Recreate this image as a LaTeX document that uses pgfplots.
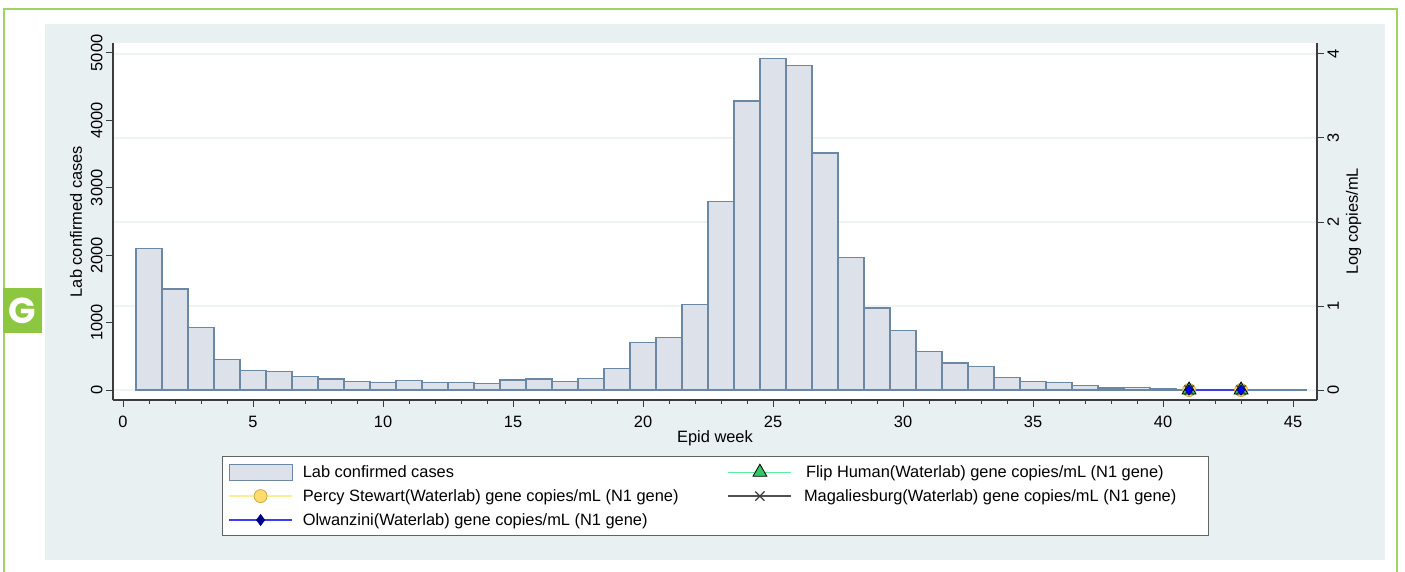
\documentclass[border=0pt]{standalone}
\usepackage{fontspec}
\setmainfont{Liberation Sans}
\newfontfamily\gfont{Poppins}
\usepackage{pgfplots}
\usepackage{pgfplotstable}
\pgfplotsset{compat=1.18}
\definecolor{panelbg}{RGB}{233,240,242}
\definecolor{framegreen}{RGB}{160,210,100}
\definecolor{ggreen}{RGB}{141,198,63}
\definecolor{gridcol}{RGB}{238,243,244}
\definecolor{barfill}{RGB}{221,226,234}
\definecolor{baredge}{RGB}{106,135,163}
\definecolor{axisgray}{RGB}{60,60,60}
\definecolor{legendgray}{RGB}{100,100,100}
\definecolor{percyline}{RGB}{255,236,150}
\definecolor{percyfill}{RGB}{255,220,110}
\definecolor{percyedge}{RGB}{205,170,60}
\definecolor{flipline}{RGB}{90,240,160}
\definecolor{flipfill}{RGB}{50,200,100}
\definecolor{maggray}{RGB}{80,80,80}
\definecolor{olwline}{RGB}{60,60,240}
\definecolor{olwmark}{RGB}{0,0,140}

\pgfplotstableread{
week cases
1 2095
2 1500
3 930
4 450
5 285
6 275
7 198
8 163
9 124
10 114
11 144
12 114
13 114
14 99
15 148
16 163
17 129
18 173
19 321
20 710
21 776
22 1271
23 2794
24 4288
25 4921
26 4812
27 3516
28 1969
29 1217
30 880
31 569
32 400
33 351
34 188
35 129
36 114
37 69
38 30
39 35
40 18
41 12
42 8
43 6
44 4
45 3
}\casestable

\pgfplotstableread{
week logcopies
41 0
43 0
}\wwtable

\begin{document}
\begin{tikzpicture}
\path[use as bounding box] (0pt,0pt) rectangle (1405pt,-571pt);
\fill[panelbg] (45pt,-24pt) rectangle (1385pt,-560pt);
\draw[framegreen, line width=2pt] (4pt,-580pt) -- (4pt,-9pt) -- (1397pt,-9pt) -- (1397pt,-580pt);
\fill[ggreen] (3pt,-288pt) rectangle (42pt,-333pt);
\node[white, inner sep=0pt] at (22.5pt,-310.5pt) {\gfont\bfseries\fontsize{36}{36}\selectfont G};

\begin{axis}[
  at={(113pt,-400pt)}, anchor=south west,
  scale only axis, width=1204pt, height=357pt,
  xmin=-0.385, xmax=45.92, ymin=-148, ymax=5148,
  axis x line*=bottom, axis y line*=left,
  axis line style={draw=axisgray, line width=1.2pt, -},
  axis background/.style={fill=white},
  xtick={0,5,...,45}, minor x tick num=4,
  ytick={0,1000,...,5000},
  scaled y ticks=false,
  tick align=outside, major tick length=7pt, minor tick length=4pt,
  every tick/.style={draw=axisgray, line width=1pt},
  tick label style={font=\fontsize{16.4}{19}\selectfont},
  /pgf/number format/assume math mode=true,
  /pgf/number format/set thousands separator={},
  yticklabel style={rotate=90, anchor=south},
  xticklabel style={yshift=-6pt},
  label style={font=\fontsize{16.4}{19}\selectfont},
  xlabel={Epid week}, ylabel={Lab confirmed cases},
  xlabel style={yshift=4pt},
  ylabel shift=-5pt,
  extra y ticks={0,1246.3,2492.6,3738.9,4985.2},
  extra y tick labels={},
  extra y tick style={grid=major, major tick length=0pt, grid style={draw=gridcol, line width=1.5pt}},
  ybar, bar width=1,
]
\addplot[fill=barfill, draw=baredge, line width=1.2pt] table[x=week,y=cases] {\casestable};
\end{axis}

\begin{axis}[
  at={(113pt,-400pt)}, anchor=south west,
  scale only axis, width=1204pt, height=357pt,
  xmin=-0.385, xmax=45.92, ymin=-0.11875, ymax=4.1306,
  axis x line=none, axis y line*=right,
  axis line style={draw=axisgray, line width=1.2pt, -},
  ytick={0,1,2,3,4},
  tick align=outside, major tick length=7pt,
  every tick/.style={draw=axisgray, line width=1pt},
  tick label style={font=\fontsize{16.4}{19}\selectfont},
  /pgf/number format/assume math mode=true,
  yticklabel style={rotate=90, anchor=north},
  label style={font=\fontsize{16.4}{19}\selectfont},
  ylabel={Log copies/mL},
  clip=false,
  legend columns=2,
  legend cell align=left,
  legend image code/.code={\draw[mark repeat=2,mark phase=2,#1] plot coordinates {(0pt,0pt) (31.5pt,0pt) (63pt,0pt)};},
  legend style={at={(axis description cs:0.0905,-0.1569)}, anchor=north west,
    draw=legendgray, line width=1pt, fill=white,
    font=\fontsize{16.4}{19}\selectfont,
    inner xsep=6pt, inner ysep=7pt, row sep=6.5pt,
    /tikz/every odd column/.append style={column sep=8pt}},
]
% redraw the left axis line over the grid lines (decoration only)
\draw[axisgray, line width=1.2pt] (rel axis cs:0,0) -- (rel axis cs:0,1);
\addlegendimage{legend image code/.code={\draw[fill=barfill,draw=baredge,line width=1pt] (0pt,-8pt) rectangle (63pt,8pt);}}
\addlegendentry{\makebox[423pt][l]{Lab confirmed cases}}
\addlegendimage{color=flipline, line width=1.3pt, mark=triangle*, mark size=8pt, mark options={fill=flipfill, draw=black, line width=0.8pt}}
\addlegendentry{\makebox[398pt][l]{\hspace{4pt}Flip Human(Waterlab) gene copies/mL (N1 gene)}}
\addlegendimage{color=percyline, line width=1.3pt, mark=*, mark size=6.5pt, mark options={fill=percyfill, draw=percyedge, line width=0.8pt}}
\addlegendentry{Percy Stewart(Waterlab) gene copies/mL (N1 gene)}
\addlegendimage{color=maggray, line width=1.3pt, mark=x, mark size=6.5pt, mark options={draw=axisgray, line width=1.3pt}}
\addlegendentry{\hspace{2pt}Magaliesburg(Waterlab) gene copies/mL (N1 gene)}
\addlegendimage{color=olwline, line width=1.3pt, mark=diamond*, mark size=5pt, mark options={fill=olwmark, draw=olwmark}}
\addlegendentry{Olwanzini(Waterlab) gene copies/mL (N1 gene)}

\addplot[forget plot, color=percyline, line width=1.3pt, mark=*, mark size=6.5pt, mark options={fill=percyfill, draw=percyedge, line width=0.8pt}] table[x=week,y=logcopies] {\wwtable};
\addplot[forget plot, color=flipline, line width=1.3pt, mark=triangle*, mark size=8pt, mark options={fill=flipfill, draw=black, line width=0.8pt}] table[x=week,y=logcopies] {\wwtable};
\addplot[forget plot, color=maggray, line width=1.3pt, mark=x, mark size=6.5pt, mark options={draw=axisgray, line width=1.3pt}] table[x=week,y=logcopies] {\wwtable};
\addplot[forget plot, color=olwline, line width=2pt, mark=diamond*, mark size=5pt, mark options={fill=blue, draw=olwmark, line width=0.8pt}] table[x=week,y=logcopies] {\wwtable};
\end{axis}
\end{tikzpicture}
\end{document}
